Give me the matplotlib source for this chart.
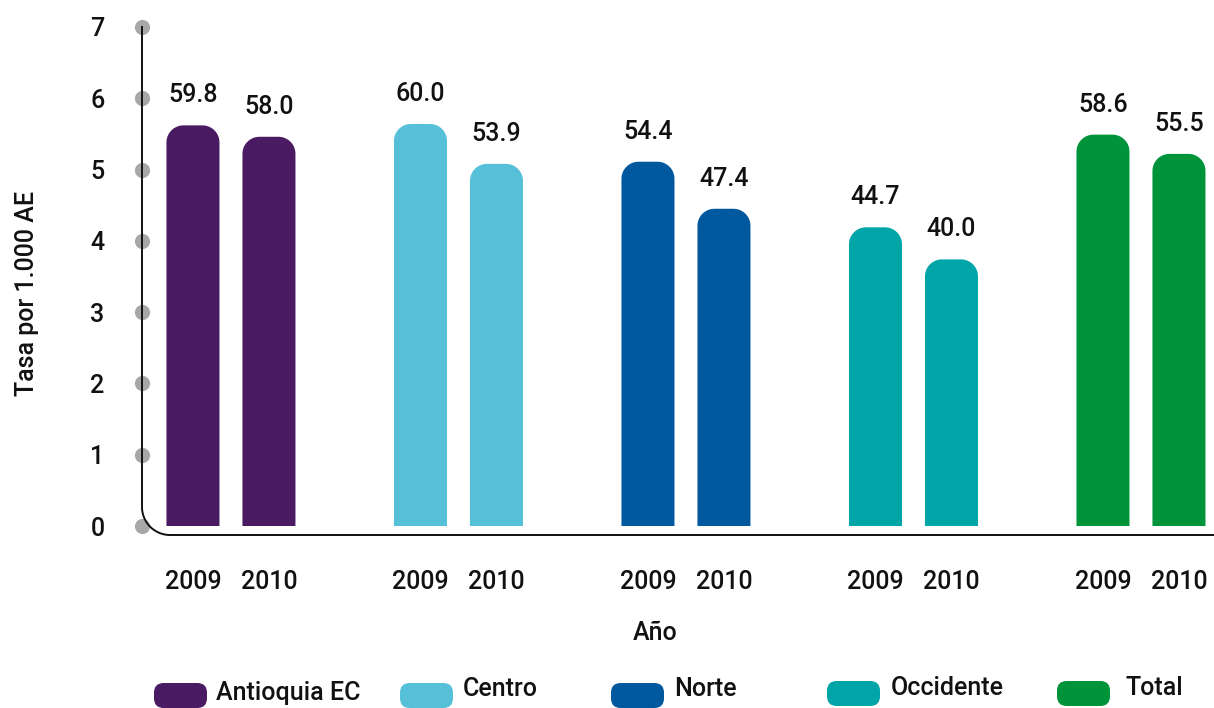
import numpy as np
import matplotlib
matplotlib.use("Agg")
import matplotlib.pyplot as plt
from matplotlib.patches import FancyBboxPatch, PathPatch
from matplotlib.path import Path
from matplotlib.lines import Line2D

# ---- data ----
regions = ["Antioquia EC", "Centro", "Norte", "Occidente", "Total"]
years = ["2009", "2010"]
rate_labels_2009 = [59.8, 60.0, 54.4, 44.7, 58.6]
rate_labels_2010 = [58.0, 53.9, 47.4, 40.0, 55.5]
bar_height_2009 = [5.62, 5.64, 5.11, 4.19, 5.49]
bar_height_2010 = [5.46, 5.08, 4.45, 3.74, 5.22]
colors = ["#4a1a63", "#56c0d8", "#00589f", "#00a5a8", "#00943a"]
y_ticks = [0, 1, 2, 3, 4, 5, 6, 7]

W, H = 1214, 708
plt.rcParams['font.family'] = ['Roboto', 'DejaVu Sans']
FS = 18
fig = plt.figure(figsize=(W / 100, H / 100), dpi=100)

def fx(px):
    return px / W

def fy(py):
    return 1 - py / H

left_px, right_px, top_px, bot_px = 142, 1214, 27, 526
XL = (-0.391, 4.321)
ax = fig.add_axes([fx(left_px), fy(bot_px), fx(right_px) - fx(left_px), (bot_px - top_px) / H])
ax.set_ylim(0, 7)
ax.set_xlim(*XL)
for s in ax.spines.values():
    s.set_visible(False)

off = 0.167
bw = 0.233
xg = np.arange(len(regions))

px_per_x = (right_px - left_px) / (XL[1] - XL[0])
px_per_y = (bot_px - top_px) / 7.0
r_px = 17
r_x = r_px / px_per_x
r_y = r_px / px_per_y

def rounded_top_path(x0, w, h):
    th = np.linspace(0, np.pi / 2, 20)
    verts = [(x0, 0), (x0, h - r_y)]
    cx, cy = x0 + r_x, h - r_y
    verts += [(cx - r_x * np.cos(t), cy + r_y * np.sin(t)) for t in th]
    cx = x0 + w - r_x
    verts += [(cx + r_x * np.sin(t), cy + r_y * np.cos(t)) for t in th]
    verts += [(x0 + w, 0), (x0, 0)]
    codes = [Path.MOVETO] + [Path.LINETO] * (len(verts) - 2) + [Path.CLOSEPOLY]
    return Path(verts, codes)

for heights, sgn in ((bar_height_2009, -1), (bar_height_2010, 1)):
    bars = ax.bar(xg + sgn * off, heights, width=bw, color=colors)
    for b, c in zip(bars, colors):
        x0, w, h = b.get_x(), b.get_width(), b.get_height()
        b.set_visible(False)
        ax.add_patch(PathPatch(rounded_top_path(x0, w, h), facecolor=c, edgecolor="none"))

for labs, heights, sgn in ((rate_labels_2009, bar_height_2009, -1),
                           (rate_labels_2010, bar_height_2010, 1)):
    for i, (v, h) in enumerate(zip(labs, heights)):
        ax.annotate(f"{v:.1f}", (xg[i] + sgn * off, h), xytext=(0, 13),
                    textcoords="offset points", ha="center", va="bottom",
                    fontsize=FS, fontweight="medium", color="#111111")

# ticks
ax.set_yticks(y_ticks)
ax.set_yticklabels([str(t) for t in y_ticks], fontsize=FS, fontweight="medium", color="#111111")
ax.tick_params(axis="y", length=0, pad=27)
xt = np.concatenate([xg - off, xg + off])
ax.set_xticks(xt)
ax.set_xticklabels([years[0]] * len(regions) + [years[1]] * len(regions),
                   fontsize=FS, fontweight="medium", color="#111111")
ax.tick_params(axis="x", length=0, pad=32)

# axis line with rounded corner (figure coords)
rad = 28
yl = 535
ax_x = left_px
pts_x = [ax_x, ax_x]
pts_y = [top_px, yl - rad]
th = np.linspace(np.pi, 1.5 * np.pi, 30)
cx, cy = ax_x + rad, yl - rad
pts_x += list(cx + rad * np.cos(th))
pts_y += list(cy - rad * np.sin(th))
pts_x += [W]
pts_y += [yl]
fig.add_artist(Line2D([fx(p) for p in pts_x], [fy(p) for p in pts_y],
                      color="#111111", lw=1.4, zorder=1))

# dots on axis
ax.scatter([XL[0]] * len(y_ticks), y_ticks, s=120, color="#a8a8a8",
           clip_on=False, zorder=5, linewidths=0)

# axis titles
fig.text(fx(655), fy(633), "Año", ha="center", va="center", fontsize=FS,
         fontweight="medium", color="#111111")
fig.text(fx(27), fy(293), "Tasa por 1.000 AE", ha="center", va="center",
         rotation=90, fontsize=FS, fontweight="medium", color="#111111")

# legend (manual, rounded swatches)
leg_px = [(154, 696, 216, 693), (400, 696, 463, 689), (611, 696, 674, 689),
          (827, 694, 891, 688), (1057, 694, 1125, 688)]
for (sx, sy, tx, ty), name, c in zip(leg_px, regions, colors):
    fig.add_artist(FancyBboxPatch((fx(sx), fy(sy + 12)), fx(53), 25 / H,
                                  boxstyle="round,pad=0,rounding_size=0.008",
                                  mutation_aspect=W / H, color=c, lw=0,
                                  transform=fig.transFigure))
    fig.text(fx(tx), fy(ty), name, ha="left", va="center", fontsize=FS,
             fontweight="medium", color="#111111")

fig.savefig("out.png", dpi=100)
